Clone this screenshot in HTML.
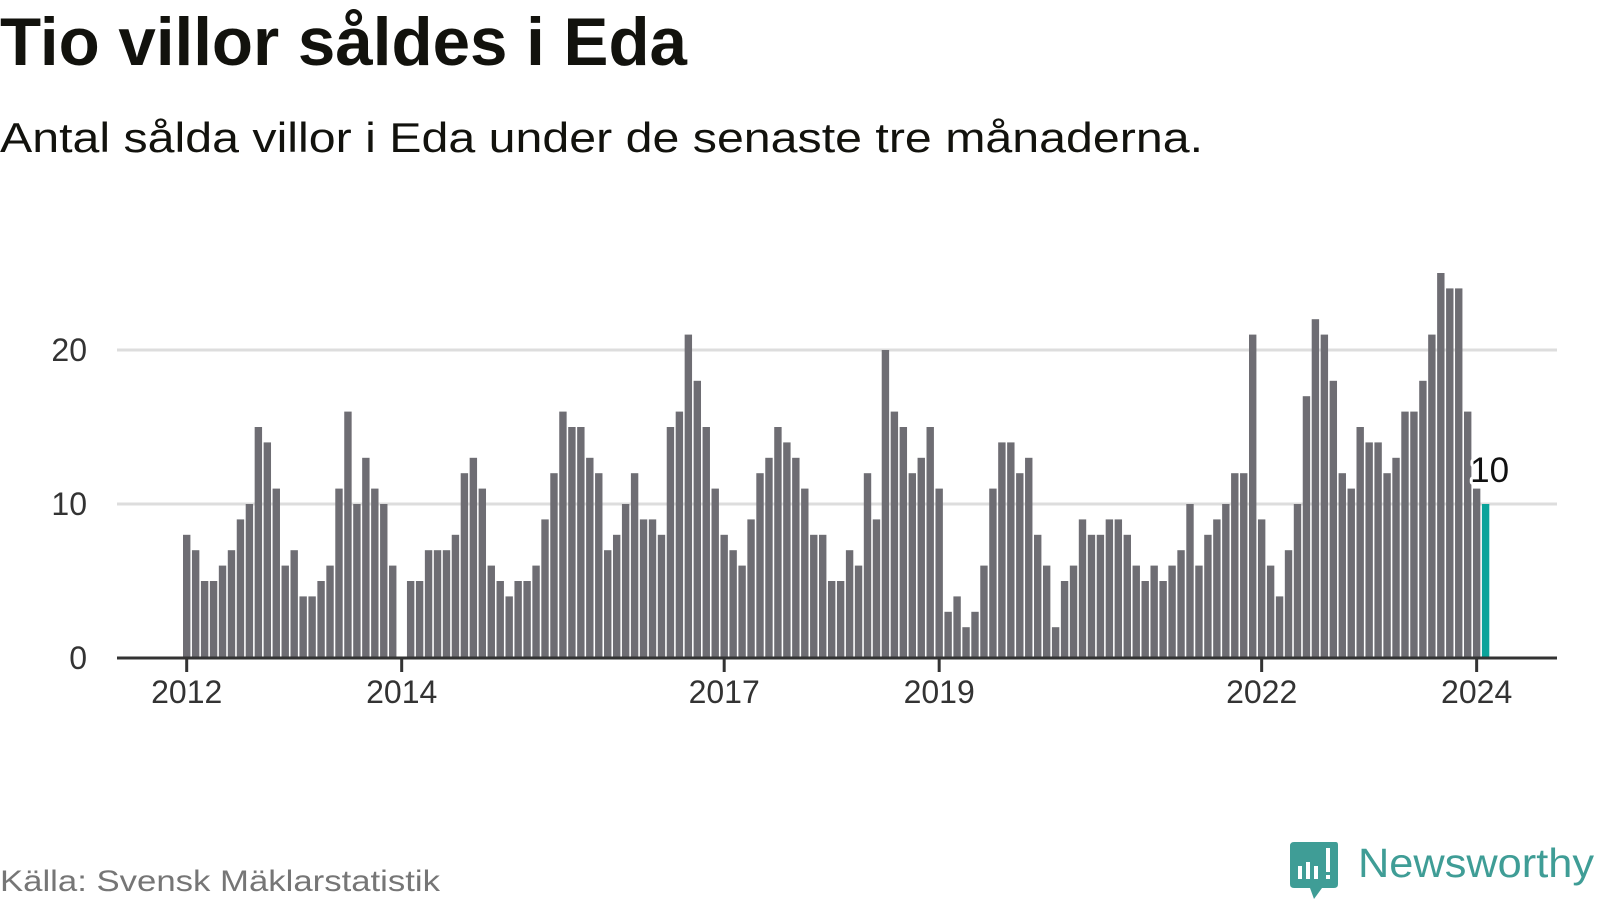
<!DOCTYPE html>
<html><head><meta charset="utf-8"><style>
html,body{margin:0;padding:0;background:#fff;}
svg{display:block;font-family:"Liberation Sans",sans-serif;}
</style></head><body>
<svg id="chart" width="1600" height="900" viewBox="0 0 1600 900" xmlns="http://www.w3.org/2000/svg">
<text x="0" y="65" font-size="68" font-weight="bold" fill="#12120d" textLength="687" lengthAdjust="spacingAndGlyphs">Tio villor såldes i Eda</text>
<text x="0" y="152" font-size="42" fill="#12120d" textLength="1203" lengthAdjust="spacingAndGlyphs">Antal sålda villor i Eda under de senaste tre månaderna.</text>
<g id="grid"></g>
<g id="bars"></g>
<g id="axes"></g>
<text x="0" y="891" font-size="30" fill="#767676" textLength="440" lengthAdjust="spacingAndGlyphs">Källa: Svensk Mäklarstatistik</text>
<g>
<path d="M1294 842 H1336 Q1338 842 1338 845 V884 Q1338 888 1334 888 H1322 L1314 899 L1310 888 H1294 Q1290 888 1290 884 V846 Q1290 842 1294 842 Z" fill="#3f9d96"/>
<rect x="1298" y="866" width="4" height="13" fill="#fff"/>
<rect x="1306" y="862" width="4" height="17" fill="#fff"/>
<rect x="1314" y="866" width="4" height="13" fill="#fff"/>
<rect x="1326" y="848" width="4" height="24" fill="#fff"/>
<rect x="1326" y="875" width="4" height="4" fill="#fff"/>
<text x="1358" y="877" font-size="41" fill="#3f9d96" textLength="236" lengthAdjust="spacingAndGlyphs">Newsworthy</text>
</g>
</svg>
<script>
const values = [8,7,5,5,6,7,9,10,15,14,11,6, 7,4,4,5,6,11,16,10,13,11,10,6, 0,5,5,7,7,7,8,12,13,11,6,5, 4,5,5,6,9,12,16,15,15,13,12,7, 8,10,12,9,9,8,15,16,21,18,15,11, 8,7,6,9,12,13,15,14,13,11,8,8, 5,5,7,6,12,9,20,16,15,12,13,15, 11,3,4,2,3,6,11,14,14,12,13,8, 6,2,5,6,9,8,8,9,9,8,6,5, 6,5,6,7,10,6,8,9,10,12,12,21, 9,6,4,7,10,17,22,21,18,12,11,15, 14,14,12,13,16,16,18,21,25,24,24,16, 11,10];
const yTicks = [0,10,20];
const yearLabels = ["2012","2014","2017","2019","2022","2024"];
const yearIndex = [0,24,60,84,120,144];
const highlightValue = values[values.length-1];

const NS="http://www.w3.org/2000/svg";
const x0=183, step=8.958, bw=7.4, y0=658, unit=15.4, xL=117, xR=1557;
const xs=i=>x0+i*step;
const ys=v=>y0-v*unit;
function mk(tag,attrs,parent){const e=document.createElementNS(NS,tag);for(const k in attrs)e.setAttribute(k,attrs[k]);parent.appendChild(e);return e;}
const grid=document.getElementById('grid'),bars=document.getElementById('bars'),axes=document.getElementById('axes');
yTicks.forEach(t=>{
  if(t>0){const l=mk('line',{x1:xL,x2:xR,y1:ys(t),y2:ys(t),stroke:'#dddddd','stroke-width':3},grid);
  
  }
  const tx=mk('text',{x:87,y:ys(t)+11,'text-anchor':'end','font-size':32,fill:'#333'},axes);
  tx.textContent=t;
  
  
});
values.forEach((v,i)=>{
  const last=i===values.length-1;
  const r=mk('rect',{x:xs(i),y:ys(v),width:bw,height:v*unit,fill:last?'#0aa39a':'#6e6d73'},bars);
  
  
});
const ax=mk('line',{x1:xL,x2:xR,y1:y0,y2:y0,stroke:'#333','stroke-width':3},axes);


yearLabels.forEach((lab,k)=>{
  const cx=xs(yearIndex[k])+bw/2;
  const tk=mk('line',{x1:cx,x2:cx,y1:y0,y2:y0+14,stroke:'#333','stroke-width':3},axes);
  
  
  const tx=mk('text',{x:cx,y:y0+45,'text-anchor':'middle','font-size':32,fill:'#333'},axes);
  tx.textContent=lab;
  
  
});
const li=values.length-1;
const lbl=mk('text',{x:xs(li)+bw/2+4,y:ys(highlightValue)-22,'text-anchor':'middle','font-size':35,fill:'#111',stroke:'#fff','stroke-width':6,'paint-order':'stroke','stroke-linejoin':'round'},axes);
lbl.textContent=highlightValue;


</script>
</body></html>
